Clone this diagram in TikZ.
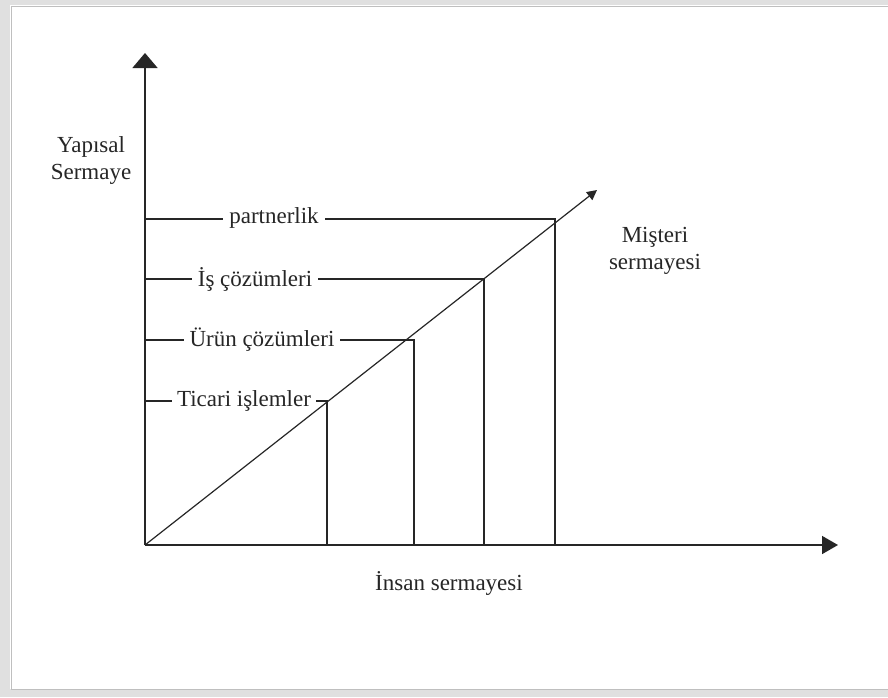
\documentclass[tikz,border=0pt]{standalone}
\usepackage{fontspec}
\setmainfont{Liberation Serif}
\usetikzlibrary{arrows.meta}
\begin{document}
\begin{tikzpicture}[x=1pt,y=-1pt,
  axis/.style={line width=1.6pt,draw=black!85},
  thin/.style={line width=1.2pt,draw=black!85},
  lbl/.style={font=\fontsize{23}{27}\selectfont,text=black!85,align=center,inner sep=0pt},
  tier/.style={lbl,fill=white,inner xsep=6pt,inner ysep=2pt}]
\useasboundingbox (0,0) rectangle (888,697);
% soft frame around the sheet
\fill[white] (0,0) rectangle (888,697);
\fill[black!12] (0,0) rectangle (888,5);
\fill[black!12] (0,0) rectangle (10,697);
\fill[black!12] (0,689) rectangle (888,697);
\draw[black!25,line width=1pt] (11,6) -- (11,689) -- (888,689);
\draw[black!25,line width=1pt] (11,6) -- (888,6);

% axes
\coordinate (O) at (145,545);
\coordinate (ytop) at (145,53);
\coordinate (xend) at (838,545);
\coordinate (dend) at (597,190);
\draw[axis,-{Triangle[length=15pt,width=25pt]}] (O) -- (ytop);
\draw[axis,-{Triangle[length=16pt,width=18pt]}] (O) -- (xend);

% levels on the diagonal
\coordinate (p1) at (327,401);
\coordinate (p2) at (414,340);
\coordinate (p3) at (484,279);
\coordinate (p4) at (555,219);
\foreach \p in {p1,p2,p3,p4}{
  \draw[thin] (O |- \p) -- (\p) -- (\p |- O);
}

% level labels
\node[tier] (t4) at (274,218) {partnerlik};
\node[tier] (t3) at (255,279) {İş çözümleri};
\node[tier] (t2) at (262,340) {Ürün çözümleri};
\node[tier,inner xsep=5pt] (t1) at (244,401) {Ticari işlemler};

% diagonal on top of the labels
\draw[thin,-{Triangle[length=10pt,width=10pt]}] (O) -- (dend);

% axis labels
\node[lbl] (ylab) at (91,160) {Yapısal\\Sermaye};
\node[lbl] (dlab) at (655,251) {Mişteri\\sermayesi};
\node[lbl] (xlab) at (449,583) {İnsan sermayesi};
\end{tikzpicture}
\end{document}
